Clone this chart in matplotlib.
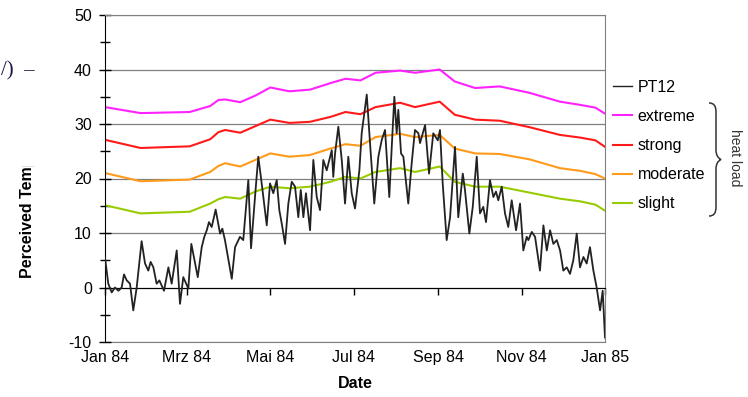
import matplotlib
matplotlib.use("Agg")
import matplotlib.pyplot as plt
from matplotlib.path import Path
from matplotlib.patches import PathPatch
from matplotlib.transforms import Bbox, TransformedBbox

plt.rcParams['font.family'] = ['Liberation Sans', 'DejaVu Sans']
plt.rcParams['axes.unicode_minus'] = False

# days since 1 Jan 1984
pt12_days = [0, 2.4, 4.9, 7.3, 9.8, 12.2, 13.9, 15.9, 18.3, 20.7, 23.2, 26.8, 29.3, 31.7, 33.4,
             35.4, 37.8, 39.8, 43.2, 46.4, 48.8, 52.5, 54.9, 57.3, 61, 63.2, 67.9, 70.8, 72.7,
             74.5, 76.1, 78.1, 81, 84.2, 85.9, 87.8, 92.8, 95.2, 98.8, 101.2, 104.9, 106.9,
             109.8, 112.2, 114.7, 118.4, 120.8, 123.2, 125.7, 127.6, 129.4, 131.8, 134.2,
             136.7, 139.1, 141.5, 143.3, 145.2, 147.1, 150.1, 152.5, 155, 157.4, 159.8, 162.3,
             166, 167.1, 168.4, 170.8, 173.3, 175.7, 178.1, 180.6, 183, 186.2, 187.9, 191.6,
             194, 197.1, 200.1, 202.6, 205, 208.1, 209.9, 211.8, 213.5, 214.7, 216.7, 218.4,
             222, 224.5, 226.9, 229.4, 230.6, 234.3, 237.2, 240.3, 243.6, 245.2, 247.2, 250.1,
             252.6, 256.2, 258.6, 261.9, 263.5, 266.7, 269.2, 272.1, 274.5, 276.9, 278.9,
             281.8, 284.3, 286.2, 287.9, 290.4, 292.8, 295.2, 297.7, 300.9, 303.8, 306.2,
             308.7, 309.9, 312.4, 314.8, 318.4, 320.9, 323.4, 325.8, 328.2, 330.7, 333.1,
             335.5, 338, 340.4, 342.8, 345.3, 347.7, 350.2, 352.6, 355, 357.5, 359.9, 362.4,
             364.3, 366]
pt12 = [5.5, 0.7, -0.9, 0, -0.6, 0, 2.4, 1.3, 0.7, -4.2, 0, 8.5, 4.4, 3.1, 4.7,
        3.7, 0.7, 1.3, -0.6, 3.7, 0.7, 6.8, -3, 1.9, -0.2, 8.0, 1.9, 7.4, 9.3,
        10.5, 12.0, 11.1, 14.3, 9.9, 10.8, 8.7, 1.6, 7.4, 9.3, 8.7, 19.7, 7.2,
        16.6, 24.0, 19.1, 11.4, 19.1, 17.3, 19.7, 14.2, 11.7, 8.0, 15.4,
        19.4, 18.5, 12.9, 17.9, 12.9, 17.3, 10.5, 23.4, 16.6, 14.2, 23.4, 21.5,
        25.2, 20.3, 24.6, 29.5, 23.4, 15.4, 24.0, 17.3, 14.5, 21.5, 28.3, 35.4,
        26.5, 15.4, 24.0, 27.1, 28.9, 16.6, 25.8, 35.0, 28.3, 32.6, 24.6, 24.0,
        15.4, 22.8, 28.9, 28.3, 26.5, 29.8, 20.9, 28.3, 27.0, 28.9, 19.1, 8.7,
        12.9, 25.8, 12.9, 20.9, 17.9, 9.9, 14.8, 24.0, 13.6, 14.8, 12.0,
        19.7, 16.6, 17.6, 16.0, 18.5, 13.6, 11.1, 16.0, 10.5, 15.4, 6.8,
        9.3, 8.7, 10.2, 9.3, 3.1, 11.4, 6.8, 10.5, 8.0, 8.7, 6.8,
        3.1, 3.7, 2.5, 5.0, 9.9, 3.7, 5.6, 4.4, 7.4, 3.1, 0, -4.2,
        -0.6, -9.2]

thr_days = [0, 26, 62, 77, 83, 88, 99, 110, 121, 135, 150, 165, 176, 187, 198, 216, 227,
            245, 256, 271, 289, 311, 333, 348, 359, 366]
extreme = [33.1, 32.0, 32.2, 33.3, 34.4, 34.5, 34.0, 35.2, 36.7, 36.0, 36.3, 37.5, 38.3,
           38.0, 39.4, 39.8, 39.4, 40.0, 37.8, 36.6, 36.9, 35.7, 34.1, 33.5, 33.0, 31.9]
strong = [27.1, 25.6, 25.9, 27.2, 28.5, 28.9, 28.4, 29.6, 30.8, 30.2, 30.4, 31.3, 32.2,
          31.8, 33.1, 33.9, 33.1, 34.1, 31.7, 30.8, 30.6, 29.4, 28.0, 27.5, 27.0, 25.8]
moderate = [21.0, 19.5, 19.8, 21.2, 22.3, 22.8, 22.2, 23.4, 24.6, 24.0, 24.3, 25.5, 26.3,
            26.0, 27.6, 28.2, 27.6, 28.0, 25.5, 24.6, 24.5, 23.5, 21.9, 21.4, 20.8, 20.0]
slight = [15.1, 13.6, 13.9, 15.4, 16.2, 16.6, 16.3, 17.6, 18.5, 18.2, 18.5, 19.4, 20.3,
          20.0, 21.2, 21.9, 21.2, 22.2, 19.4, 18.5, 18.5, 17.4, 16.3, 15.8, 15.2, 14.1]

month_days = [0, 60, 121, 182, 244, 305, 366]
month_labels = ["Jan 84", "Mrz 84", "Mai 84", "Jul 84", "Sep 84", "Nov 84", "Jan 85"]

W, H = 748, 397
fig = plt.figure(figsize=(W / 100, H / 100), dpi=100)
ax = fig.add_axes([105 / W, 1 - 342 / H, 500 / W, 327 / H])


def fx(px):
    return px / W


def fy(py):
    return 1 - py / H


grey = "#808080"
l_ext, = ax.plot(thr_days, extreme, color="#FF22FF", lw=1.5, label="extreme")
l_str, = ax.plot(thr_days, strong, color="#FF1A1A", lw=1.5, label="strong")
l_mod, = ax.plot(thr_days, moderate, color="#FF9A1A", lw=1.5, label="moderate")
l_sli, = ax.plot(thr_days, slight, color="#99CC00", lw=1.5, label="slight")
l_pt, = ax.plot(pt12_days, pt12, color="#222222", lw=1.3, label="PT12", zorder=5)

ax.set_xlim(0, 366)
ax.set_ylim(-10, 50)
ax.set_yticks(range(-10, 51, 10))
ax.set_yticks(range(-10, 51, 5), minor=True)
ax.yaxis.grid(True, color=grey, lw=0.9)
ax.set_axisbelow(True)
ax.tick_params(axis="y", which="major", direction="inout", length=9, width=1,
               labelsize=11.5, pad=5)
ax.tick_params(axis="y", which="minor", direction="inout", length=7, width=1)

ax.spines["left"].set_color("black")
for s in ["top", "right"]:
    ax.spines[s].set_color(grey)
ax.spines["bottom"].set_position(("data", 0))
ax.spines["bottom"].set_color("black")
ax.set_xticks(month_days)
ax.tick_params(axis="x", direction="out", length=5, width=1, labelbottom=False)

sec = ax.secondary_xaxis(0.0)
sec.set_xticks(month_days, month_labels)
sec.tick_params(length=0, pad=6, labelsize=11.5)
sec.spines["bottom"].set_color(grey)

fig.text(fx(355), fy(383), "Date", ha="center", va="center", fontsize=11.5,
         fontweight="bold")

# label is cut off in the source picture
ylab = fig.text(fx(28), fy(278), "Perceived Temp", rotation=90,
                ha="center", va="bottom", fontsize=11.5, fontweight="bold")
ylab.set_clip_box(TransformedBbox(Bbox.from_extents(0, 0, 0.1, fy(166)), fig.transFigure))
ylab.set_clip_on(True)

fig.text(fx(1), fy(71), "/)  –", ha="left", va="center", fontsize=15,
         family="Liberation Serif", color="#1A1A40")

leg = ax.legend(handles=[l_pt, l_ext, l_str, l_mod, l_sli], loc="upper left",
                bbox_to_anchor=(fx(613), fy(80)), bbox_transform=fig.transFigure,
                frameon=False, fontsize=11.5, handlelength=1.2, handletextpad=0.35,
                labelspacing=0.88, borderpad=0, borderaxespad=0)
leg.get_lines()[0].set_linewidth(1.0)

# curly brace for "heat load"
pts = [(709, 103), (714, 103), (716, 106), (716, 112),
       (716, 150),
       (716, 155), (718, 158), (721, 159.5),
       (718, 161), (716, 164), (716, 169),
       (716, 207),
       (716, 213), (714, 216), (709, 216)]
codes = [Path.MOVETO, Path.CURVE4, Path.CURVE4, Path.CURVE4,
         Path.LINETO,
         Path.CURVE4, Path.CURVE4, Path.CURVE4,
         Path.CURVE4, Path.CURVE4, Path.CURVE4,
         Path.LINETO,
         Path.CURVE4, Path.CURVE4, Path.CURVE4]
brace = Path([(fx(x), fy(y)) for x, y in pts], codes)
fig.patches.append(PathPatch(brace, fill=False, edgecolor="#333333", lw=1.1,
                             transform=fig.transFigure))
fig.text(fx(735), fy(158), "heat load", rotation=-90, ha="center", va="center",
         fontsize=10, color="#333333")

fig.savefig("out.png", dpi=100)
